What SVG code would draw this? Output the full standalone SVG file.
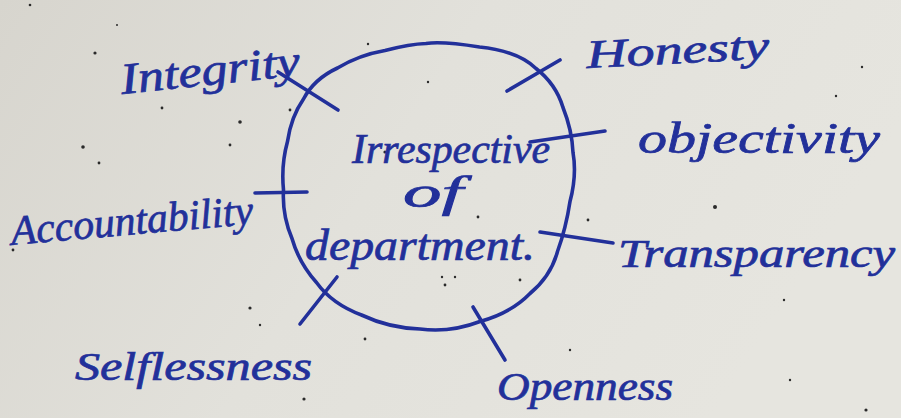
<svg xmlns="http://www.w3.org/2000/svg" width="901" height="418" viewBox="0 0 901 418">
  <defs>
    <linearGradient id="paper" x1="0" y1="0" x2="1" y2="0.3">
      <stop offset="0" stop-color="#d7d5ce"/>
      <stop offset="0.5" stop-color="#e2e1db"/>
      <stop offset="1" stop-color="#e6e5df"/>
    </linearGradient>
    <style>
      .ink { fill: none; stroke: #22309a; stroke-width: 3.6; stroke-linecap: round; stroke-linejoin: round; }
      .label { fill: #22309a; stroke: #22309a; stroke-width: 0.7; font-family: "Liberation Serif", "DejaVu Serif", serif; font-style: italic; }
      .speck { fill: #2a2a2a; }
    </style>
  </defs>

  <!-- paper -->
  <rect x="0" y="0" width="901" height="418" fill="url(#paper)"/>
  <g id="specks">
    <circle class="speck" cx="30" cy="5" r="1.3"/>
    <circle class="speck" cx="117" cy="25" r="1"/>
    <circle class="speck" cx="95" cy="53" r="1.6"/>
    <circle class="speck" cx="83" cy="147" r="1.8"/>
    <circle class="speck" cx="99" cy="163" r="1.4"/>
    <circle class="speck" cx="162" cy="108" r="1.4"/>
    <circle class="speck" cx="240" cy="122" r="1.8"/>
    <circle class="speck" cx="230" cy="145" r="1.4"/>
    <circle class="speck" cx="290" cy="110" r="1.4"/>
    <circle class="speck" cx="368" cy="44" r="1.2"/>
    <circle class="speck" cx="428" cy="82" r="1.2"/>
    <circle class="speck" cx="385" cy="152" r="1.6"/>
    <circle class="speck" cx="13" cy="250" r="1.4"/>
    <circle class="speck" cx="145" cy="232" r="1.2"/>
    <circle class="speck" cx="250" cy="308" r="1.6"/>
    <circle class="speck" cx="260" cy="325" r="1.2"/>
    <circle class="speck" cx="365" cy="339" r="1.4"/>
    <circle class="speck" cx="304" cy="399" r="1.6"/>
    <circle class="speck" cx="445" cy="285" r="1.4"/>
    <circle class="speck" cx="455" cy="277" r="1.2"/>
    <circle class="speck" cx="442" cy="277" r="1.2"/>
    <circle class="speck" cx="520" cy="280" r="1.4"/>
    <circle class="speck" cx="588" cy="220" r="1.4"/>
    <circle class="speck" cx="715" cy="207" r="2"/>
    <circle class="speck" cx="478" cy="217" r="1.4"/>
    <circle class="speck" cx="570" cy="350" r="1.2"/>
    <circle class="speck" cx="784" cy="300" r="1.2"/>
    <circle class="speck" cx="790" cy="380" r="1.2"/>
    <circle class="speck" cx="866" cy="410" r="1.6"/>
    <circle class="speck" cx="862" cy="67" r="1.2"/>
    <circle class="speck" cx="836" cy="96" r="1.2"/>
  </g>

  <!-- central node -->
  <g id="centre">
    <path class="ink" d="M426,43.5 Q442,41 479.5,47 Q518,51 536,68.5 Q556,84 563,107.5 Q572,130 573,152.5 Q577,175 570,201.5 Q566,228 557.5,251.5 Q551,276 530,293.5 Q511,313 480,321.5 Q450,333 420,329 Q389,328 361.5,315 Q332,304 316.5,282.5 Q299,263 292,238.5 Q282,215 283.5,190 Q281,165 287.5,141.5 Q291,117 303.5,99 Q314,79 337.5,68 Q359,55 385,50.5 Q410,44 426,43.5 Z"/>
    <text class="label" x="352" y="163" font-size="42" textLength="198" lengthAdjust="spacingAndGlyphs">Irrespective</text>
    <text class="label" x="403" y="207" font-size="44" textLength="60" lengthAdjust="spacingAndGlyphs">of</text>
    <text class="label" x="305" y="260" font-size="44" textLength="230" lengthAdjust="spacingAndGlyphs">department.</text>
  </g>

  <!-- connectors: short strokes crossing the circle -->
  <g id="connectors">
    <line class="ink" x1="278" y1="72" x2="338" y2="110"/>
    <line class="ink" x1="507" y1="91" x2="560" y2="60"/>
    <line class="ink" x1="530" y1="142" x2="605" y2="131"/>
    <line class="ink" x1="255" y1="193" x2="307" y2="192"/>
    <line class="ink" x1="540" y1="232" x2="613" y2="243"/>
    <line class="ink" x1="473" y1="307" x2="505" y2="360"/>
    <line class="ink" x1="300" y1="324" x2="337" y2="277"/>
  </g>

  <g id="integrity">
    <text class="label" x="122" y="94" font-size="44" textLength="180" lengthAdjust="spacingAndGlyphs" transform="rotate(-6 122 94)">Integrity</text>
  </g>
  <g id="honesty">
    <text class="label" x="587" y="68" font-size="40" textLength="183" lengthAdjust="spacingAndGlyphs" transform="rotate(-3 587 68)">Honesty</text>
  </g>
  <g id="objectivity">
    <text class="label" x="638" y="153" font-size="44" textLength="242" lengthAdjust="spacingAndGlyphs">objectivity</text>
  </g>
  <g id="accountability">
    <text class="label" x="12" y="245" font-size="42" textLength="243" lengthAdjust="spacingAndGlyphs" transform="rotate(-5 12 245)">Accountability</text>
  </g>
  <g id="transparency">
    <text class="label" x="618" y="267" font-size="40" textLength="277" lengthAdjust="spacingAndGlyphs">Transparency</text>
  </g>
  <g id="selflessness">
    <text class="label" x="75" y="380" font-size="40" textLength="237" lengthAdjust="spacingAndGlyphs">Selflessness</text>
  </g>
  <g id="openness">
    <text class="label" x="497" y="400" font-size="40" textLength="176" lengthAdjust="spacingAndGlyphs">Openness</text>
  </g>
</svg>
